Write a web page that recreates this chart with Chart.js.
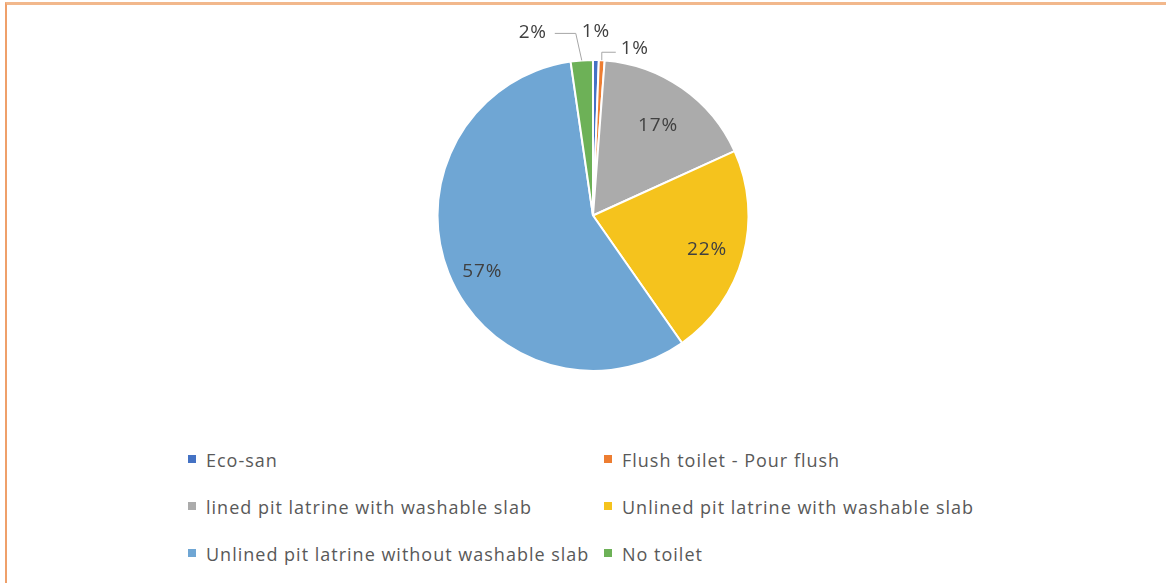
<!DOCTYPE html>
<html>
<head>
<meta charset="utf-8">
<script src="https://cdn.jsdelivr.net/npm/chart.js@4/dist/chart.umd.min.js"></script>
<style>
  body { margin: 0; background: #fff; font-family: "Open Sans", sans-serif; }
  #frame { position: absolute; left: 5px; top: 2px; width: 1161px; height: 581px;
           border-top: 3px solid #F2B88C; border-left: 2px solid #EFA06A; }
  #wrap { position: absolute; left: 0; top: 0; width: 1166px; height: 400px; }
  #legend { position: absolute; left: 188px; top: 446px; display: grid;
            grid-template-columns: 416px 400px; row-gap: 19px; color: #595959;
            font-size: 18px; letter-spacing: 1px; }
  #legend div { height: 28px; line-height: 28px; white-space: nowrap; }
  #legend span { display: inline-block; width: 8px; height: 8px; margin-right: 10px; vertical-align: 4px; }
</style>
</head>
<body>
<div id="frame"></div>
<div id="wrap"><canvas id="pie"></canvas></div>
<div id="legend"></div>
<script>
const categories = ['Eco-san', 'Flush toilet - Pour flush', 'lined pit latrine with washable slab',
  'Unlined pit latrine with washable slab', 'Unlined pit latrine without washable slab', 'No toilet'];
const shares = [0.6, 0.6, 17.0, 22.1, 57.4, 2.3];
const valueLabels = ['1%', '1%', '17%', '22%', '57%', '2%'];
const colors = ['#4472C4', '#ED7D31', '#ABABAB', '#F5C31D', '#6FA6D4', '#6DB157'];

// inside label distance (fraction of radius) per slice
const insideRadius = { 2: 0.73, 3: 0.76, 4: 0.79 };
// outside label placement for the thin slices: label offset and elbow relative to the slice's rim point
const outside = {
  0: { dx: 0, dy: -28, elbow: null },
  1: { dx: 33, dy: -12, elbow: [0, -8, 14] },
  5: { dx: -49, dy: -28, elbow: [-6, -27, -21] }
};

const labelPlugin = {
  id: 'sliceLabels',
  afterDatasetsDraw(chart) {
    const ctx = chart.ctx;
    const arcs = chart.getDatasetMeta(0).data;
    ctx.save();
    ctx.font = '19px "Open Sans", sans-serif';
    ctx.letterSpacing = '0.8px';
    ctx.fillStyle = '#404040';
    ctx.textAlign = 'center';
    ctx.textBaseline = 'middle';
    arcs.forEach((arc, i) => {
      let mid = (arc.startAngle + arc.endAngle) / 2;
      if (!outside[i]) {
        if (i === 4) mid -= 0.07;
        const r = arc.outerRadius * insideRadius[i];
        ctx.fillText(valueLabels[i], arc.x + Math.cos(mid) * r, arc.y + Math.sin(mid) * r + 3);
        return;
      }
      const o = outside[i];
      const ex = arc.x + Math.cos(mid) * arc.outerRadius;
      const ey = arc.y + Math.sin(mid) * arc.outerRadius;
      if (o.elbow) {
        ctx.strokeStyle = '#A6A6A6';
        ctx.lineWidth = 1;
        ctx.beginPath();
        ctx.moveTo(ex, ey);
        ctx.lineTo(ex + o.elbow[0], ey + o.elbow[1]);
        ctx.lineTo(ex + o.elbow[0] + o.elbow[2], ey + o.elbow[1]);
        ctx.stroke();
      }
      ctx.fillText(valueLabels[i], ex + o.dx, ey + o.dy);
    });
    ctx.restore();
  }
};

const chart = new Chart(document.getElementById('pie'), {
  type: 'pie',
  data: {
    labels: categories,
    datasets: [{
      data: shares,
      backgroundColor: colors,
      borderColor: '#ffffff',
      borderWidth: 2
    }]
  },
  options: {
    responsive: true,
    maintainAspectRatio: false,
    animation: false,
    layout: { padding: { top: 59, left: 20, bottom: 28 } },
    plugins: { legend: { display: false }, tooltip: { enabled: false } }
  },
  plugins: [labelPlugin]
});

const legendBox = document.getElementById('legend');
categories.forEach((c, i) => {
  const d = document.createElement('div');
  d.innerHTML = '<span style="background:' + colors[i] + '"></span>' + c;
  legendBox.appendChild(d);
});
</script>
</body>
</html>
